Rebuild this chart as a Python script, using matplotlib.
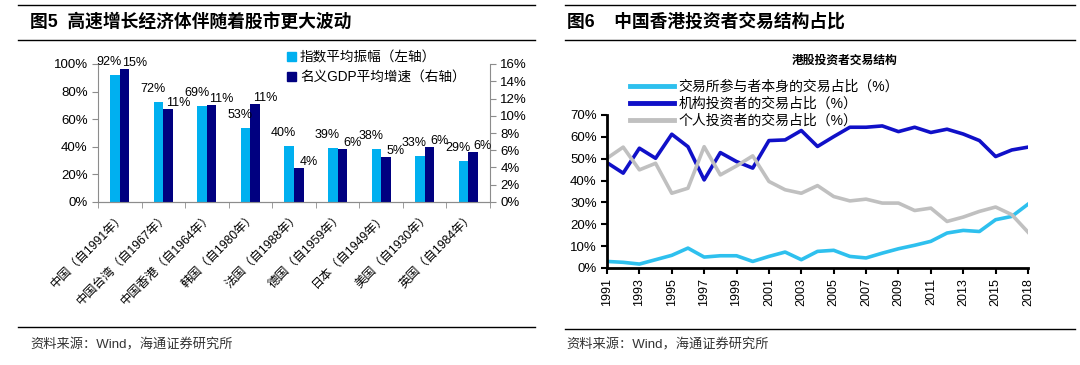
import matplotlib
matplotlib.use('Agg')
import matplotlib.pyplot as plt
from matplotlib.patches import Patch
from matplotlib.lines import Line2D
import numpy as np

plt.rcParams['font.family'] = ['Liberation Sans', 'Noto Sans CJK SC']

# ---------------- data: left chart ----------------
countries = ['中国（自1991年）', '中国台湾（自1967年）', '中国香港（自1964年）',
             '韩国（自1980年）', '法国（自1988年）', '德国（自1959年）',
             '日本（自1949年）', '美国（自1930年）', '英国（自1984年）']
amplitude = [92.3, 72.4, 69.4, 53.4, 40.4, 39.4, 38.4, 33.4, 29.4]   # left axis, %
gdp_growth = [15.4, 10.8, 11.3, 11.4, 3.9, 6.1, 5.2, 6.4, 5.8]       # right axis, %
left_legend = ['指数平均振幅（左轴）', '名义GDP平均增速（右轴）']

# ---------------- data: right chart ----------------
years = ['1991', '1992', '1993', '1994', '1995', '1996', '1997', '1998', '1999',
         '2000', '2001', '2002', '2003', '2004', '2005', '2006', '2007', '2008',
         '2009', '2010', '2011', '2012', '2013', '2014', '2015', '2016', '2018']
exchange_part = [3.0, 2.6, 1.8, 3.8, 5.8, 9.1, 5.0, 5.6, 5.6, 3.0, 5.3, 7.3, 3.8, 7.6,
                 8.1, 5.3, 4.6, 6.8, 8.8, 10.4, 12.2, 16.0, 17.2, 16.7, 22.1, 23.6, 29.2]
institutional = [48.2, 43.4, 54.8, 50.2, 61.2, 55.5, 40.3, 52.8, 48.7, 45.7, 58.3, 58.6,
                 62.9, 55.6, 60.1, 64.4, 64.4, 65.0, 62.4, 64.4, 62.0, 63.5, 61.3, 58.3,
                 51.0, 54.0, 55.3]
individual = [50.2, 55.3, 44.9, 47.9, 34.2, 36.5, 55.5, 42.6, 46.7, 51.3, 39.6, 35.8,
              34.2, 37.7, 32.7, 30.7, 31.5, 29.7, 29.7, 26.3, 27.4, 21.3, 23.3, 25.9,
              27.9, 24.4, 16.4]
right_legend = ['交易所参与者本身的交易占比（%）', '机构投资者的交易占比（%）', '个人投资者的交易占比（%）']
year_ticks = ['1991', '1993', '1995', '1997', '1999', '2001', '2003', '2005', '2007',
              '2009', '2011', '2013', '2015', '2018']

W, H = 1080, 365
fig = plt.figure(figsize=(W / 100, H / 100), dpi=100)


def rect(l, t, r, b):
    return [l / W, 1 - b / H, (r - l) / W, (b - t) / H]


def hline(x0, x1, y, lw=1.0):
    fig.add_artist(Line2D([x0 / W, x1 / W], [1 - y / H, 1 - y / H],
                          color='black', lw=lw, transform=fig.transFigure))


# ---------------- left chart ----------------
C_CYAN = '#00B0F0'
C_NAVY = '#000080'
GRAY = '#8C8C8C'

ax1 = fig.add_axes(rect(98, 64, 490, 202))
ax1b = ax1.twinx()
x = np.arange(len(countries))
bw = 0.22
ax1.bar(x - bw / 2, amplitude, width=bw, color=C_CYAN, zorder=2)
ax1b.bar(x + bw / 2, gdp_growth, width=bw, color=C_NAVY, zorder=2)
ax1.set_xlim(-0.5, len(countries) - 0.5)
ax1.set_ylim(0, 100)
ax1b.set_ylim(0, 16)
ax1.set_yticks(np.arange(0, 101, 20))
ax1.set_yticklabels([f'{v}%' for v in range(0, 101, 20)])
ax1b.set_yticks(np.arange(0, 17, 2))
ax1b.set_yticklabels([f'{v}%' for v in range(0, 17, 2)])
ax1.set_xticks(x)
ax1.set_xticklabels(countries, rotation=45, ha='right', va='top',
                    rotation_mode='anchor', fontsize=8.8)
ax1.set_xticks(np.arange(-0.5, len(countries), 1), minor=True)
ax1.tick_params(axis='x', which='major', length=0, pad=6)
ax1.tick_params(axis='x', which='minor', length=4, color=GRAY, direction='out')
ax1.tick_params(axis='y', labelsize=9.5, color=GRAY, length=4, direction='out')
ax1b.tick_params(axis='y', labelsize=9.5, color=GRAY, length=4, direction='out')
for a in (ax1, ax1b):
    a.spines['top'].set_visible(False)
    for s in ('left', 'right', 'bottom'):
        a.spines[s].set_color(GRAY)
ax1b.spines['left'].set_visible(False)
ax1.spines['right'].set_visible(False)

for i, v in enumerate(amplitude):
    ax1b.annotate(f'{v:.0f}%', xy=(x[i] - bw / 2, v), xycoords=ax1.transData,
                  xytext=(-4, 5), textcoords='offset points', ha='center', va='bottom',
                  fontsize=9, zorder=5)
for i, v in enumerate(gdp_growth):
    ax1b.annotate(f'{v:.0f}%', xy=(x[i] + bw / 2, v), xycoords=ax1b.transData,
                  xytext=(7, 0), textcoords='offset points', ha='center', va='bottom',
                  fontsize=9, zorder=5)

ax1b.legend([Patch(color=C_CYAN), Patch(color=C_NAVY)], left_legend,
            loc='upper left', bbox_to_anchor=(287 / W, 1 - 50 / H),
            bbox_transform=fig.transFigure, frameon=False, fontsize=9.8,
            handlelength=0.65, handleheight=0.65, handletextpad=0.3,
            labelspacing=0.45, borderpad=0, borderaxespad=0)

# ---------------- right chart ----------------
L_CYAN = '#2EC0EE'
L_BLUE = '#1010C8'
L_GRAY = '#C0C0C0'
ax2 = fig.add_axes(rect(607, 115, 1028, 268))
xi = np.arange(len(years))
ax2.plot(xi, exchange_part, color=L_CYAN, lw=2.6, solid_joinstyle='round')
ax2.plot(xi, institutional, color=L_BLUE, lw=2.6, solid_joinstyle='round')
ax2.plot(xi, individual, color=L_GRAY, lw=2.6, solid_joinstyle='round')
ax2.set_xlim(0, len(years) - 1)
ax2.set_ylim(0, 70)
ax2.set_yticks(np.arange(0, 71, 10))
ax2.set_yticklabels([f'{v}%' for v in range(0, 71, 10)])
ax2.set_xticks([years.index(t) for t in year_ticks])
ax2.set_xticklabels(year_ticks, rotation=90, fontsize=9)
ax2.tick_params(axis='y', labelsize=9.5, length=4, width=1.5, direction='out')
ax2.tick_params(axis='x', length=4, width=1.5, direction='out', pad=3)
for s in ('top', 'right'):
    ax2.spines[s].set_visible(False)
for s in ('left', 'bottom'):
    ax2.spines[s].set_linewidth(2)
    ax2.spines[s].set_color('black')

ax2.legend([Line2D([], [], color=c, lw=3.5) for c in (L_CYAN, L_BLUE, L_GRAY)],
           right_legend, loc='upper left', bbox_to_anchor=(630 / W, 1 - 80 / H),
           bbox_transform=fig.transFigure, frameon=False, fontsize=10,
           handlelength=3.2, handletextpad=0.3, labelspacing=0.2,
           borderpad=0, borderaxespad=0)
fig.text(845 / W, 1 - 61 / H, '港股投资者交易结构', ha='center', va='center',
         fontsize=8.5, fontweight='bold')

# ---------------- titles, rules, sources ----------------
hline(18, 535, 5)
hline(18, 535, 40)
hline(18, 535, 327)
hline(565, 1075, 5)
hline(565, 1075, 40)
hline(565, 1075, 329)
fig.text(30 / W, 1 - 22 / H, '图5  高速增长经济体伴随着股市更大波动', ha='left',
         va='center', fontsize=12.8, fontweight='bold')
fig.text(567 / W, 1 - 22 / H, '图6    中国香港投资者交易结构占比', ha='left',
         va='center', fontsize=12.8, fontweight='bold')
fig.text(30 / W, 1 - 345 / H, '资料来源：Wind，海通证券研究所', ha='left', va='center',
         fontsize=9.5, color='#333333')
fig.text(566 / W, 1 - 345 / H, '资料来源：Wind，海通证券研究所', ha='left', va='center',
         fontsize=9.5, color='#333333')

fig.savefig('out.png', dpi=100)
